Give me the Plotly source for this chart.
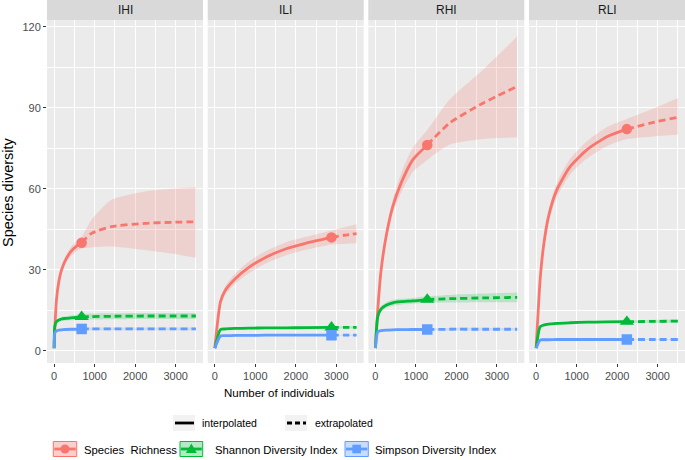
import plotly.graph_objects as go

W, H = 685, 460

SITES = ["IHI", "ILI", "RHI", "RLI"]
INDEX_NAMES = ["Species  Richness", "Shannon Diversity Index", "Simpson Diversity Index"]
COLORS = ["#F8766D", "#00BA38", "#619CFF"]
BANDS = ["rgba(248,118,109,0.22)", "rgba(0,186,56,0.2)", "rgba(97,156,255,0.2)"]
SYMBOLS = ["circle", "triangle-up", "square"]
SIZES = [10.5, 12.5, 10.5]

X_TICKS = [0, 1000, 2000, 3000]
X_MINOR = [500, 1500, 2500, 3500]
Y_TICKS = [0, 30, 60, 90, 120]
Y_MINOR = [15, 45, 75, 105]

# ---------------- IHI ----------------
IHI_N = [1, 17, 58, 116, 182, 281, 412, 552, 680, 923, 1416, 2239, 2900, 3500]
IHI_OBS = 680
IHI_RICH = [1, 7.7, 18.8, 25.6, 29.9, 33.6, 36.7, 38.8, 40.0, 43.5, 46.0, 47.2, 47.6, 47.8]
IHI_RICH_LO = [1, 7.4, 18.0, 24.6, 28.7, 32.2, 35.0, 36.8, 37.9, 38.3, 38.6, 37.3, 36.0, 34.5]
IHI_RICH_HI = [1, 8.0, 19.6, 26.6, 31.1, 35.0, 38.4, 40.8, 42.2, 48.5, 55.9, 59.0, 60.0, 60.6]
IHI_SHAN = [1, 9.0, 10.8, 11.4, 11.8, 12.0, 12.2, 12.4, 12.6, 12.7, 12.8, 12.9, 12.9, 12.9]
IHI_SHAN_LO = [1, 8.7, 10.3, 10.8, 11.1, 11.2, 11.3, 11.4, 11.6, 11.6, 11.7, 11.8, 11.8, 11.8]
IHI_SHAN_HI = [1, 9.3, 11.3, 12.0, 12.5, 12.8, 13.1, 13.4, 13.6, 13.8, 13.9, 14.0, 14.0, 14.0]
IHI_SIMP = [1, 6.6, 7.4, 7.7, 7.8, 7.9, 8.0, 8.0, 8.1, 8.1, 8.1, 8.1, 8.1, 8.1]
IHI_SIMP_LO = [1, 6.3, 7.0, 7.2, 7.3, 7.4, 7.5, 7.5, 7.6, 7.6, 7.6, 7.6, 7.6, 7.6]
IHI_SIMP_HI = [1, 6.9, 7.8, 8.2, 8.3, 8.4, 8.5, 8.5, 8.6, 8.6, 8.6, 8.6, 8.6, 8.6]

# ---------------- ILI ----------------
ILI_N = [1, 141, 264, 511, 840, 1252, 1746, 2240, 2880, 3200, 3500]
ILI_OBS = 2880
ILI_RICH = [1, 18.2, 22.5, 26.8, 30.9, 34.6, 37.7, 39.8, 42.0, 42.8, 43.4]
ILI_RICH_LO = [1, 17.0, 20.9, 24.9, 28.7, 32.3, 35.3, 37.4, 39.4, 39.6, 39.8]
ILI_RICH_HI = [1, 19.4, 24.1, 28.7, 33.1, 36.9, 40.1, 42.2, 44.6, 45.8, 46.9]
ILI_SHAN = [1, 7.9, 8.1, 8.3, 8.4, 8.5, 8.5, 8.6, 8.7, 8.7, 8.7]
ILI_SHAN_LO = [1, 7.6, 7.8, 8.0, 8.1, 8.2, 8.2, 8.3, 8.4, 8.3, 8.3]
ILI_SHAN_HI = [1, 8.2, 8.4, 8.6, 8.7, 8.8, 8.8, 8.9, 9.0, 9.1, 9.1]
ILI_SIMP = [1, 5.5, 5.6, 5.7, 5.7, 5.8, 5.8, 5.8, 5.8, 5.8, 5.8]
ILI_SIMP_LO = [1, 5.3, 5.4, 5.5, 5.5, 5.6, 5.6, 5.6, 5.6, 5.6, 5.6]
ILI_SIMP_HI = [1, 5.7, 5.8, 5.9, 5.9, 6.0, 6.0, 6.0, 6.0, 6.0, 6.0]

# ---------------- RHI ----------------
RHI_N = [1, 58, 141, 264, 428, 634, 922, 1280, 1827, 2651, 3500]
RHI_OBS = 1280
RHI_RICH = [1, 15.1, 29.9, 42.3, 53.4, 62.1, 70.7, 76.2, 84.3, 91.7, 97.9]
RHI_RICH_LO = [1, 14.6, 28.7, 40.5, 50.9, 58.5, 66.2, 70.7, 76.3, 78.4, 79.1]
RHI_RICH_HI = [1, 15.6, 31.1, 44.1, 55.9, 65.8, 75.2, 81.8, 93.0, 104.0, 116.4]
RHI_SHAN = [1, 12.6, 15.5, 16.9, 17.8, 18.2, 18.5, 19.0, 19.3, 19.6, 19.8]
RHI_SHAN_LO = [1, 12.0, 14.5, 15.9, 16.7, 17.1, 17.4, 17.8, 17.9, 18.0, 18.0]
RHI_SHAN_HI = [1, 13.2, 16.5, 17.9, 18.9, 19.3, 19.6, 20.2, 20.7, 21.2, 21.6]
RHI_SIMP = [1, 7.0, 7.5, 7.7, 7.8, 7.85, 7.9, 7.9, 8.0, 8.0, 8.0]
RHI_SIMP_LO = [1, 6.7, 7.1, 7.3, 7.4, 7.45, 7.5, 7.5, 7.5, 7.5, 7.5]
RHI_SIMP_HI = [1, 7.3, 7.9, 8.1, 8.2, 8.25, 8.3, 8.3, 8.5, 8.5, 8.5]

# ---------------- RLI ----------------
RLI_N = [1, 99, 182, 306, 511, 840, 1252, 1746, 2240, 2900, 3500]
RLI_OBS = 2240
RLI_RICH = [1, 26.2, 38.6, 49.7, 59.6, 68.2, 74.4, 79.3, 82.1, 84.6, 86.5]
RLI_RICH_LO = [1, 25.2, 37.0, 47.6, 57.0, 65.3, 71.2, 75.8, 78.4, 79.4, 80.0]
RLI_RICH_HI = [1, 27.2, 40.2, 51.8, 62.2, 71.1, 77.6, 82.8, 85.8, 89.7, 93.6]
RLI_SHAN = [1, 8.9, 9.5, 9.9, 10.2, 10.4, 10.6, 10.7, 10.8, 10.9, 11.0]
RLI_SHAN_LO = [1, 8.6, 9.1, 9.5, 9.8, 10.0, 10.2, 10.3, 10.4, 10.3, 10.4]
RLI_SHAN_HI = [1, 9.2, 9.9, 10.3, 10.6, 10.8, 11.0, 11.1, 11.2, 11.5, 11.6]
RLI_SIMP = [1, 4.0, 4.1, 4.1, 4.2, 4.2, 4.2, 4.2, 4.2, 4.2, 4.2]
RLI_SIMP_LO = [1, 3.8, 3.9, 3.9, 4.0, 4.0, 4.0, 4.0, 4.0, 4.0, 4.0]
RLI_SIMP_HI = [1, 4.2, 4.3, 4.3, 4.4, 4.4, 4.4, 4.4, 4.4, 4.4, 4.4]

SITE_TABLE = {
    "IHI": (IHI_N, IHI_OBS, [(IHI_RICH, IHI_RICH_LO, IHI_RICH_HI),
                             (IHI_SHAN, IHI_SHAN_LO, IHI_SHAN_HI),
                             (IHI_SIMP, IHI_SIMP_LO, IHI_SIMP_HI)]),
    "ILI": (ILI_N, ILI_OBS, [(ILI_RICH, ILI_RICH_LO, ILI_RICH_HI),
                             (ILI_SHAN, ILI_SHAN_LO, ILI_SHAN_HI),
                             (ILI_SIMP, ILI_SIMP_LO, ILI_SIMP_HI)]),
    "RHI": (RHI_N, RHI_OBS, [(RHI_RICH, RHI_RICH_LO, RHI_RICH_HI),
                             (RHI_SHAN, RHI_SHAN_LO, RHI_SHAN_HI),
                             (RHI_SIMP, RHI_SIMP_LO, RHI_SIMP_HI)]),
    "RLI": (RLI_N, RLI_OBS, [(RLI_RICH, RLI_RICH_LO, RLI_RICH_HI),
                             (RLI_SHAN, RLI_SHAN_LO, RLI_SHAN_HI),
                             (RLI_SIMP, RLI_SIMP_LO, RLI_SIMP_HI)]),
}

FONT = "Liberation Sans, Arial, sans-serif"


def fx(p):
    return p / W


def fy(p):
    return 1 - p / H


PANEL_LEFT = [47, 207.7, 368.3, 529]
PANEL_W = 156
PLOT_TOP, PLOT_BOT = 20, 363
SPL = dict(shape="spline", smoothing=0.6)
LW = 2.8

fig = go.Figure()

for k, site in enumerate(SITES):
    sfx = "" if k == 0 else str(k + 1)
    xa, ya = "x" + sfx, "y" + sfx
    n, obs, series = SITE_TABLE[site]
    i_obs = n.index(obs)
    for j, (y, lo, hi) in enumerate(series):
        fig.add_trace(go.Scatter(
            x=n, y=lo, mode="lines", line=dict(width=0, **SPL),
            hoverinfo="skip", showlegend=False, xaxis=xa, yaxis=ya))
        fig.add_trace(go.Scatter(
            x=n, y=hi, mode="lines", line=dict(width=0, **SPL), fill="tonexty",
            fillcolor=BANDS[j], hoverinfo="skip", showlegend=False, xaxis=xa, yaxis=ya))
    for j, (y, lo, hi) in enumerate(series):
        fig.add_trace(go.Scatter(
            x=n[:i_obs + 1], y=y[:i_obs + 1], mode="lines",
            line=dict(color=COLORS[j], width=LW, **SPL),
            name=INDEX_NAMES[j] + " (interpolated)", showlegend=False, xaxis=xa, yaxis=ya))
        fig.add_trace(go.Scatter(
            x=n[i_obs:], y=y[i_obs:], mode="lines",
            line=dict(color=COLORS[j], width=LW, dash="7px,4px", **SPL),
            name=INDEX_NAMES[j] + " (extrapolated)", showlegend=False, xaxis=xa, yaxis=ya))
    for j, (y, lo, hi) in enumerate(series):
        fig.add_trace(go.Scatter(
            x=[n[i_obs]], y=[y[i_obs]], mode="markers",
            marker=dict(symbol=SYMBOLS[j], size=SIZES[j], color=COLORS[j], line=dict(width=0)),
            name=INDEX_NAMES[j], showlegend=False, xaxis=xa, yaxis=ya))

layout = dict(
    width=W, height=H, margin=dict(l=0, r=0, t=0, b=0),
    paper_bgcolor="white", plot_bgcolor="#EBEBEB", showlegend=False,
    font=dict(family=FONT, color="#4D4D4D", size=11),
)

shapes = []
annotations = []
for k, site in enumerate(SITES):
    sfx = "" if k == 0 else str(k + 1)
    d0 = fx(PANEL_LEFT[k])
    d1 = min(1.0, fx(PANEL_LEFT[k] + PANEL_W))
    layout["xaxis" + sfx] = dict(
        domain=[d0, d1], range=[-175, 3675], anchor="y" + sfx,
        tickvals=X_TICKS, ticktext=[str(v) for v in X_TICKS],
        ticks="outside", ticklen=3, tickwidth=1, tickcolor="#333333",
        tickfont=dict(family=FONT, size=11, color="#4D4D4D"),
        showgrid=True, gridcolor="white", gridwidth=1.1,
        minor=dict(tickvals=X_MINOR, showgrid=True, gridcolor="white", gridwidth=0.5, ticks=""),
        zeroline=False, showline=False, automargin=False, fixedrange=True,
    )
    layout["yaxis" + sfx] = dict(
        domain=[fy(PLOT_BOT), fy(PLOT_TOP)], range=[-4.5, 122.5], anchor="x" + sfx,
        tickvals=Y_TICKS, showticklabels=(k == 0),
        ticks="outside" if k == 0 else "", ticklen=3, tickwidth=1, tickcolor="#333333",
        tickfont=dict(family=FONT, size=11, color="#4D4D4D"),
        showgrid=True, gridcolor="white", gridwidth=1.1,
        minor=dict(tickvals=Y_MINOR, showgrid=True, gridcolor="white", gridwidth=0.5, ticks=""),
        zeroline=False, showline=False, automargin=False, fixedrange=True,
    )
    # facet strip
    shapes.append(dict(type="rect", xref="paper", yref="paper", x0=d0, x1=d1,
                       y0=fy(PLOT_TOP), y1=1.0, fillcolor="#D9D9D9", line=dict(width=0), layer="above"))
    annotations.append(dict(text=site, xref="paper", yref="paper", x=(d0 + d1) / 2, y=fy(10),
                            xanchor="center", yanchor="middle", showarrow=False,
                            font=dict(family=FONT, size=12, color="#1A1A1A")))

# axis titles
annotations.append(dict(text="Number of individuals", xref="paper", yref="paper",
                        x=fx(279), y=fy(393), xanchor="center", yanchor="middle", showarrow=False,
                        font=dict(family=FONT, size=11.5, color="black")))
annotations.append(dict(text="Species diversity", xref="paper", yref="paper",
                        x=fx(8), y=fy(192), xanchor="center", yanchor="middle", showarrow=False,
                        textangle=-90, font=dict(family=FONT, size=14.5, color="black")))

# legend row 1: line types
LEG1_Y = 423
for (kx0, kx1, dash, label, tx) in [(173, 195, "solid", "interpolated", 200),
                                     (285, 307, "5px,3px", "extrapolated", 313)]:
    shapes.append(dict(type="rect", xref="paper", yref="paper", x0=fx(kx0), x1=fx(kx1),
                       y0=fy(LEG1_Y + 8), y1=fy(LEG1_Y - 8), fillcolor="#F2F2F2",
                       line=dict(width=0), layer="above"))
    shapes.append(dict(type="line", xref="paper", yref="paper", x0=fx(kx0 + 2), x1=fx(kx1 - 1),
                       y0=fy(LEG1_Y), y1=fy(LEG1_Y), line=dict(color="black", width=2.8, dash=dash),
                       layer="above"))
    annotations.append(dict(text=label, xref="paper", yref="paper", x=fx(tx), y=fy(LEG1_Y),
                            xanchor="left", yanchor="middle", showarrow=False,
                            font=dict(family=FONT, size=10.5, color="black")))

# legend row 2: indices
LEG2_Y = 449
LEG2_FILLS = ["rgba(248,118,109,0.35)", "rgba(0,186,56,0.3)", "rgba(97,156,255,0.35)"]
for j, (bx0, bx1, tx) in enumerate([(53.3, 76.7, 81.7), (180, 202.7, 212.7), (345, 368.3, 373.3)]):
    shapes.append(dict(type="rect", xref="paper", yref="paper", x0=fx(bx0), x1=fx(bx1),
                       y0=fy(LEG2_Y + 7.5), y1=fy(LEG2_Y - 7.5), fillcolor=LEG2_FILLS[j],
                       line=dict(color=COLORS[j], width=1), layer="above"))
    shapes.append(dict(type="line", xref="paper", yref="paper", x0=fx(bx0 + 1), x1=fx(bx1 - 1),
                       y0=fy(LEG2_Y), y1=fy(LEG2_Y), line=dict(color=COLORS[j], width=2.8),
                       layer="above"))
    cx = (bx0 + bx1) / 2
    if j == 0:
        shapes.append(dict(type="circle", xref="paper", yref="paper", x0=fx(cx - 4.5), x1=fx(cx + 4.5),
                           y0=fy(LEG2_Y + 4.5), y1=fy(LEG2_Y - 4.5), fillcolor=COLORS[j],
                           line=dict(width=0), layer="above"))
    elif j == 1:
        path = "M {:.5f},{:.5f} L {:.5f},{:.5f} L {:.5f},{:.5f} Z".format(
            fx(cx), fy(LEG2_Y - 5.5), fx(cx - 5.5), fy(LEG2_Y + 4), fx(cx + 5.5), fy(LEG2_Y + 4))
        shapes.append(dict(type="path", xref="paper", yref="paper", path=path,
                           fillcolor=COLORS[j], line=dict(width=0), layer="above"))
    else:
        shapes.append(dict(type="rect", xref="paper", yref="paper", x0=fx(cx - 4.3), x1=fx(cx + 4.3),
                           y0=fy(LEG2_Y + 4.3), y1=fy(LEG2_Y - 4.3), fillcolor=COLORS[j],
                           line=dict(width=0), layer="above"))
    annotations.append(dict(text=INDEX_NAMES[j].replace("  ", "&nbsp; "), xref="paper", yref="paper",
                            x=fx(tx), y=fy(LEG2_Y + 1), xanchor="left", yanchor="middle", showarrow=False,
                            font=dict(family=FONT, size=11.3, color="black")))

layout["shapes"] = shapes
layout["annotations"] = annotations
fig.update_layout(**layout)

fig.write_html("out.html", config={"displayModeBar": False},
               post_script="document.body.style.margin='0';document.body.style.padding='0';"
                           "document.body.style.overflow='hidden';")
